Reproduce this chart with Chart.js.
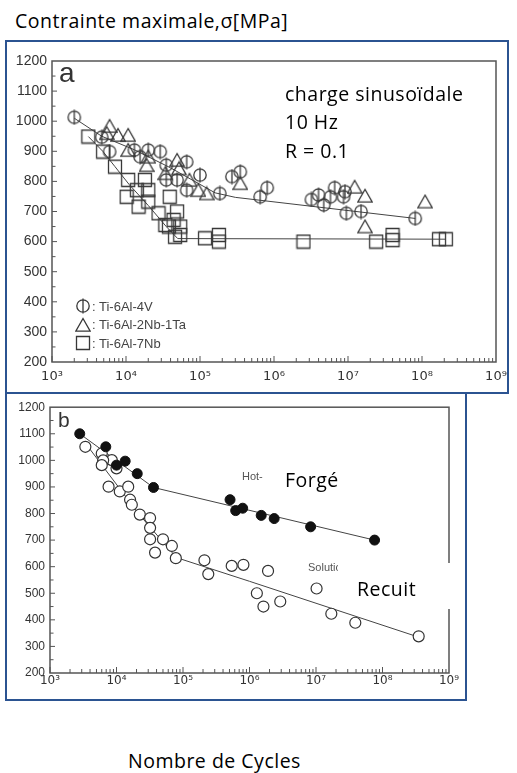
<!DOCTYPE html>
<html>
<head>
<meta charset="utf-8">
<script src="https://cdn.jsdelivr.net/npm/chart.js@4.4.0/dist/chart.umd.min.js"></script>
<style>
  body { margin: 0; background: #fff; width: 517px; height: 773px; position: relative; overflow: hidden; font-family: "Open Sans", sans-serif; }
  .frame { position: absolute; border: 2px solid #2b5391; box-sizing: border-box; }
  canvas.chart { position: absolute; left: 0; }
  .txt { position: absolute; white-space: nowrap; color: #000; font-size: 19.5px; letter-spacing: 0.5px; line-height: 1; z-index: 3; }
  .small { position: absolute; white-space: nowrap; font-family: "Liberation Sans", Arial, sans-serif; font-size: 11px; line-height: 1; color: #555; z-index: 1; }
  .panel { position: absolute; font-family: "Liberation Sans", Arial, sans-serif; line-height: 1; color: #333; }
  #legend { position: absolute; left: 75px; top: 297px; font-family: "Liberation Sans", Arial, sans-serif; font-size: 13px; color: #444; }
  #legend div { height: 18.5px; display: flex; align-items: center; }
  #legend img { width: 16px; height: 16px; margin-right: 1px; }
  #mask { position: absolute; left: 338px; top: 563px; width: 116px; height: 46px; background: #fff; z-index: 2; }
</style>
</head>
<body>

<div class="txt" style="left:15px;top:11.2px">Contrainte maximale,σ[MPa]</div>
<div class="frame" style="left:5px;top:40px;width:504px;height:354px"></div>
<div class="frame" style="left:5px;top:392px;width:462px;height:309px"></div>

<canvas id="chartA" class="chart" width="517" height="350" style="top:40px"></canvas>
<canvas id="chartB" class="chart" width="517" height="306" style="top:395px"></canvas>

<div class="panel" style="left:59px;top:59px;font-size:28px">a</div>
<div class="panel" style="left:58px;top:409px;font-size:21px">b</div>

<div class="txt" style="left:285px;top:83.7px">charge sinusoïdale</div>
<div class="txt" style="left:285px;top:112.2px">10 Hz</div>
<div class="txt" style="left:285px;top:140.7px">R = 0.1</div>
<div id="legend"></div>

<div class="small" style="left:242px;top:470.6px">Hot-</div>
<div class="txt" style="left:285px;top:470.2px">Forgé</div>
<div class="small" style="left:308px;top:561.6px">Solution annealed</div>
<div id="mask"></div>
<div class="txt" style="left:357px;top:579.2px">Recuit</div>

<div class="txt" style="left:128px;top:751px">Nombre de Cycles</div>

<script>
// axis ticks
const xTicks = [1e3, 1e4, 1e5, 1e6, 1e7, 1e8, 1e9];
const yTicks = [200, 300, 400, 500, 600, 700, 800, 900, 1000, 1100, 1200];

// (a) Ti-6Al-4V, circles
const ti64N = [2.0e3, 4.7e3, 6.0e3, 1.3e4, 1.55e4, 2.0e4, 2.9e4, 3.5e4, 6.6e4, 3.5e4, 4.9e4, 6.6e4, 1.0e5, 1.85e5,
               2.7e5, 3.5e5, 6.5e5, 8.1e5, 3.2e6, 4.0e6, 4.7e6, 5.8e6, 6.6e6, 8.7e6, 9.1e6, 9.5e6, 1.5e7, 8.1e7];
const ti64S = [1013, 947, 899, 904, 882, 904, 899, 854, 865, 805, 805, 771, 821, 760,
               816, 832, 749, 779, 740, 755, 722, 749, 779, 749, 766, 694, 700, 677];
const ti64FitN = [2.0e3, 4.7e3, 1.3e4, 4.0e4, 1.6e5, 3.0e5, 8.1e7];
const ti64FitS = [1010, 950, 905, 845, 762, 747, 677];

// (a) Ti-6Al-2Nb-1Ta, triangles
const ti62N = [6.0e3, 5.5e3, 7.8e3, 1.07e4, 1.07e4, 2.0e4, 1.9e4, 3.4e4, 4.9e4, 5.2e4, 7.2e4, 9.5e4, 1.23e5,
               3.5e5, 1.23e7, 1.7e7, 1.7e7, 1.1e8];
const ti62S = [984, 960, 954, 954, 904, 882, 854, 827, 871, 843, 805, 771, 760,
               794, 782, 752, 650, 733];

// (a) Ti-6Al-7Nb, squares
const ti67N = [3.1e3, 4.9e3, 7.1e3, 1.07e4, 1.8e4, 1.02e4, 1.4e4, 2.0e4, 1.48e4, 2.0e4, 3.9e4, 2.75e4, 4.9e4, 3.4e4,
               4.4e4, 3.8e4, 5.4e4, 4.6e4, 5.4e4, 1.17e5, 1.8e5, 1.8e5, 2.5e6, 2.4e7, 4.0e7, 4.0e7, 1.7e8, 2.1e8];
const ti67S = [949, 899, 849, 805, 805, 749, 771, 771, 716, 733, 749, 694, 700, 655,
               672, 650, 650, 616, 622, 611, 622, 600, 600, 600, 622, 605, 608, 608];
const ti67FitN = [3.1e3, 4.9e3, 7.1e3, 1.1e4, 2.0e4, 3.5e4, 5.0e4, 2.1e8];
const ti67FitS = [949, 899, 849, 790, 720, 650, 610, 608];

// (b) hot forged, filled circles
const hotN = [2.8e3, 6.9e3, 1.0e4, 1.35e4, 2.05e4, 3.6e4, 5.1e5, 6.2e5, 7.9e5, 1.5e6, 2.35e6, 8.3e6, 7.6e7];
const hotS = [1100, 1051, 982, 997, 950, 898, 852, 811, 820, 793, 781, 750, 700];
const hotFitN = [2.8e3, 3.6e4, 7.6e7];
const hotFitS = [1100, 898, 700];

// (b) solution annealed, open circles
const annN = [3.4e3, 6.0e3, 8.5e3, 6.3e3, 6.0e3, 1.0e4, 7.6e3, 1.12e4, 1.5e4, 1.6e4, 1.7e4, 2.24e4, 3.2e4, 3.2e4,
              3.2e4, 5.0e4, 6.8e4, 3.8e4, 7.8e4, 2.1e5, 2.4e5, 5.4e5, 8.1e5, 1.29e6, 1.62e6, 1.9e6, 2.9e6,
              1.02e7, 1.7e7, 3.9e7, 3.5e8];
const annS = [1051, 1026, 1001, 1000, 982, 970, 901, 883, 901, 852, 833, 796, 783, 746,
              703, 703, 678, 653, 632, 624, 572, 603, 607, 500, 450, 584, 469,
              518, 423, 389, 338];
const annFitN = [3.4e3, 2.2e4, 8.0e4, 1.0e6, 3.5e8];
const annFitS = [1065, 796, 634, 545, 335];

const sup = { 3: '³', 4: '⁴', 5: '⁵', 6: '⁶', 7: '⁷', 8: '⁸', 9: '⁹' };
const pts = (n, s) => n.map((v, i) => ({ x: v, y: s[i] }));

// outline symbols for panel a
function makeSymbol(kind) {
  const c = document.createElement('canvas');
  c.width = 16; c.height = 16;
  const g = c.getContext('2d');
  g.strokeStyle = '#383838';
  g.lineWidth = 1.3;
  g.beginPath();
  if (kind === 'circleBar') {
    g.arc(8, 8, 6.2, 0, 2 * Math.PI);
    g.moveTo(8, 0.5); g.lineTo(8, 15.5);
  } else if (kind === 'triangle') {
    g.moveTo(8, 1.5); g.lineTo(15.2, 14.2); g.lineTo(0.8, 14.2); g.closePath();
  } else {
    g.rect(1.5, 1.5, 13, 13);
  }
  g.stroke();
  return c;
}
const symCircle = makeSymbol('circleBar');
const symTri = makeSymbol('triangle');
const symSq = makeSymbol('square');

// frame box plus inward ticks
const inwardTicks = {
  id: 'inwardTicks',
  afterDraw(chart) {
    const { ctx, chartArea: a, scales: { x, y } } = chart;
    ctx.save();
    ctx.strokeStyle = '#555';
    ctx.lineWidth = 1.5;
    ctx.strokeRect(a.left, a.top, a.right - a.left, a.bottom - a.top);
    ctx.lineWidth = 1;
    ctx.beginPath();
    for (let e = 3; e < 9; e++) {
      for (let m = 1; m < 10; m++) {
        const px = x.getPixelForValue(m * Math.pow(10, e));
        ctx.moveTo(px, a.bottom);
        ctx.lineTo(px, a.bottom - (m === 1 ? 6 : 4));
      }
    }
    for (let v = 250; v < 1200; v += 50) {
      const py = y.getPixelForValue(v);
      ctx.moveTo(a.left, py);
      ctx.lineTo(a.left + (v % 100 ? 3.5 : 5), py);
    }
    ctx.stroke();
    ctx.restore();
  }
};

function scales(xFont, yFont, yWidth, xPad) {
  return {
    x: {
      type: 'logarithmic', min: 1e3, max: 1e9,
      grid: { display: false, drawTicks: false }, border: { display: false },
      afterBuildTicks: s => { s.ticks = xTicks.map(v => ({ value: v })); },
      afterFit: s => { s.height = 28; },
      ticks: {
        autoSkip: false, maxRotation: 0, padding: xPad, color: '#333',
        font: { family: 'DejaVu Sans', size: xFont },
        callback: v => '10' + sup[Math.round(Math.log10(v))]
      }
    },
    y: {
      min: 200, max: 1200,
      grid: { display: false, drawTicks: false }, border: { display: false },
      afterBuildTicks: s => { s.ticks = yTicks.map(v => ({ value: v })); },
      afterFit: s => { s.width = yWidth; },
      ticks: {
        padding: 5, color: '#333', font: { family: 'Liberation Sans', size: yFont },
        callback: v => String(v)
      }
    }
  };
}

const common = {
  responsive: false, animation: false, events: [],
  plugins: { legend: { display: false }, tooltip: { enabled: false } }
};

const lineSet = (n, s) => ({ data: pts(n, s), showLine: true, borderColor: '#444', borderWidth: 1, pointRadius: 0, order: 2 });

new Chart(document.getElementById('chartA'), {
  type: 'scatter',
  data: {
    datasets: [
      lineSet(ti64FitN, ti64FitS),
      lineSet(ti67FitN, ti67FitS),
      { label: 'Ti-6Al-4V', data: pts(ti64N, ti64S), pointStyle: symCircle, pointRadius: 7, order: 1 },
      { label: 'Ti-6Al-2Nb-1Ta', data: pts(ti62N, ti62S), pointStyle: symTri, pointRadius: 7, order: 1 },
      { label: 'Ti-6Al-7Nb', data: pts(ti67N, ti67S), pointStyle: symSq, pointRadius: 7, order: 1 }
    ]
  },
  options: { ...common, layout: { padding: { top: 21, right: 21, left: 0, bottom: 0 } }, scales: scales(13, 14, 52, 7) },
  plugins: [inwardTicks]
});

new Chart(document.getElementById('chartB'), {
  type: 'scatter',
  data: {
    datasets: [
      lineSet(hotFitN, hotFitS),
      lineSet(annFitN, annFitS),
      { label: 'Hot-forged', data: pts(hotN, hotS), pointRadius: 5, backgroundColor: '#111', borderColor: '#111', order: 1 },
      { label: 'Solution annealed', data: pts(annN, annS), pointRadius: 5.5, backgroundColor: '#fff',
        borderColor: '#333', borderWidth: 1.2, order: 1 }
    ]
  },
  options: { ...common, layout: { padding: { top: 10, right: 68, left: 0, bottom: 0 } }, scales: scales(12, 12, 50, 1) },
  plugins: [inwardTicks]
});

// legend for panel a
const legend = document.getElementById('legend');
[[symCircle, 'Ti-6Al-4V'], [symTri, 'Ti-6Al-2Nb-1Ta'], [symSq, 'Ti-6Al-7Nb']].forEach(([sym, name]) => {
  const row = document.createElement('div');
  const img = document.createElement('img');
  img.src = sym.toDataURL();
  row.appendChild(img);
  row.appendChild(document.createTextNode(': ' + name));
  legend.appendChild(row);
});
</script>
</body>
</html>
